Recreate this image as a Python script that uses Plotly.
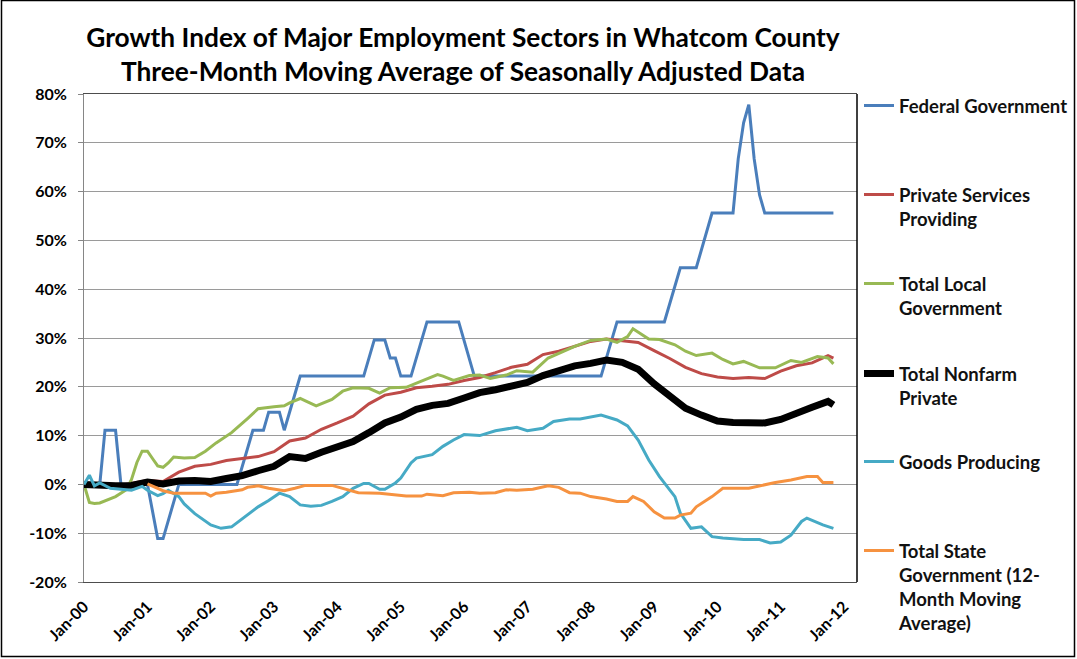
import pandas as pd
import plotly.graph_objects as go

# ---------------- data (percent growth since Jan-2000) ----------------
fed_dates = ["2000-01", "2000-04", "2000-05", "2000-07", "2000-08", "2001-01", "2001-03", "2001-04",
             "2001-07", "2002-06", "2002-09", "2002-11", "2002-12", "2003-02", "2003-03", "2003-06",
             "2004-06", "2004-08", "2004-10", "2004-11", "2004-12", "2005-01", "2005-03", "2005-06",
             "2005-12", "2006-03", "2008-03", "2008-06", "2009-03", "2009-06", "2009-09", "2009-12",
             "2010-04", "2010-05", "2010-06", "2010-07", "2010-08", "2010-09", "2010-10", "2011-11"]
fed_values = [0, 0, 11.1, 11.1, 0, 0, -11.1, -11.1,
              0, 0, 11.1, 11.1, 14.8, 14.8, 11.1, 22.2,
              22.2, 29.6, 29.6, 25.9, 25.9, 22.2, 22.2, 33.3,
              33.3, 22.2, 22.2, 33.3, 33.3, 44.4, 44.4, 55.6,
              55.6, 66.7, 74.1, 77.8, 66.7, 59.3, 55.6, 55.6]

quarter_dates = ["2000-01", "2000-04", "2000-07", "2000-10", "2001-01", "2001-04", "2001-07", "2001-10",
                 "2002-01", "2002-04", "2002-07", "2002-10", "2003-01", "2003-04", "2003-07", "2003-10",
                 "2004-01", "2004-04", "2004-07", "2004-10", "2005-01", "2005-04", "2005-07", "2005-10",
                 "2006-01", "2006-04", "2006-07", "2006-10", "2007-01", "2007-04", "2007-07", "2007-10",
                 "2008-01", "2008-04", "2008-07", "2008-10", "2009-01", "2009-04", "2009-07", "2009-10",
                 "2010-01", "2010-04", "2010-07", "2010-10", "2011-01", "2011-04", "2011-07", "2011-10",
                 "2011-11"]
services_values = [0, -0.3, -0.4, 0.2, 0.8, 0.6, 2.5, 3.7, 4.1, 4.9,
                   5.3, 5.7, 6.7, 8.9, 9.5, 11.3, 12.6, 14.0, 16.5, 18.3,
                   18.9, 19.8, 20.1, 20.5, 21.3, 21.9, 22.9, 24.0, 24.6, 26.6,
                   27.3, 28.3, 29.3, 29.8, 29.4, 29.1, 27.4, 25.8, 24.0, 22.7,
                   22.0, 21.7, 21.9, 21.7, 23.2, 24.3, 24.9, 26.4, 25.9]
nonfarm_values = [0, -0.2, -0.3, -0.2, 0.5, 0.1, 0.7, 0.8, 0.6, 1.2,
                  1.8, 2.8, 3.7, 5.7, 5.3, 6.6, 7.6, 8.8, 10.6, 12.6,
                  13.8, 15.4, 16.2, 16.6, 17.7, 18.8, 19.4, 20.2, 20.9, 22.3,
                  23.4, 24.3, 24.8, 25.5, 25.0, 23.6, 20.6, 18.3, 15.6, 14.2,
                  13.0, 12.7, 12.8, 12.6, 13.3, 14.7, 15.8, 17.0, 16.3]

local_dates = ["2000-01", "2000-02", "2000-03", "2000-04", "2000-07", "2000-09", "2000-10", "2000-11",
               "2000-12", "2001-01", "2001-02", "2001-03", "2001-04", "2001-05", "2001-06", "2001-08",
               "2001-10", "2001-12", "2002-02", "2002-05", "2002-08", "2002-10", "2003-01", "2003-03",
               "2003-04", "2003-06", "2003-07", "2003-09", "2003-12", "2004-02", "2004-04", "2004-07",
               "2004-09", "2004-11", "2005-02", "2005-05", "2005-08", "2005-09", "2005-11", "2006-02",
               "2006-04", "2006-06", "2006-09", "2006-11", "2007-02", "2007-05", "2007-07", "2007-10",
               "2008-01", "2008-04", "2008-06", "2008-08", "2008-09", "2008-12", "2009-02", "2009-05",
               "2009-07", "2009-09", "2009-12", "2010-02", "2010-04", "2010-06", "2010-09", "2010-12",
               "2011-03", "2011-05", "2011-08", "2011-10", "2011-11"]
local_values = [0, -3.7, -3.9, -3.8, -2.5, -1.1, 1.0, 4.5,
                6.8, 6.8, 5.2, 3.8, 3.5, 4.4, 5.6, 5.4,
                5.5, 6.8, 8.5, 10.6, 13.5, 15.5, 15.9, 16.1,
                16.7, 17.6, 17.1, 16.1, 17.4, 19.1, 19.8, 19.7,
                18.7, 19.8, 19.9, 21.1, 22.5, 22.2, 21.3, 22.3,
                22.4, 21.7, 22.4, 23.3, 23.0, 25.9, 26.9, 28.3,
                29.5, 29.8, 29.1, 30.3, 31.9, 29.8, 29.7, 28.6,
                27.3, 26.4, 26.9, 25.6, 24.7, 25.2, 23.9, 23.9,
                25.4, 25.0, 26.2, 25.9, 24.7]

goods_dates = ["2000-01", "2000-02", "2000-03", "2000-04", "2000-06", "2000-08", "2000-10", "2000-12",
               "2001-01", "2001-03", "2001-04", "2001-05", "2001-07", "2001-08", "2001-10", "2002-01",
               "2002-03", "2002-05", "2002-07", "2002-10", "2002-12", "2003-02", "2003-04", "2003-06",
               "2003-08", "2003-10", "2003-12", "2004-02", "2004-04", "2004-06", "2004-07", "2004-09",
               "2004-10", "2004-12", "2005-01", "2005-03", "2005-04", "2005-07", "2005-09", "2005-11",
               "2006-01", "2006-04", "2006-07", "2006-11", "2007-01", "2007-04", "2007-06", "2007-09",
               "2007-11", "2008-02", "2008-03", "2008-06", "2008-08", "2008-10", "2008-12", "2009-02",
               "2009-04", "2009-05", "2009-06", "2009-08", "2009-10", "2009-12", "2010-02", "2010-06",
               "2010-09", "2010-11", "2011-01", "2011-03", "2011-05", "2011-06", "2011-09", "2011-11"]
goods_values = [0, 1.9, -0.3, 0.3, -0.8, -1.0, -1.2, -0.4,
                -1.2, -2.3, -1.9, -1.2, -2.5, -4.0, -6.0, -8.3,
                -9.0, -8.7, -7.0, -4.6, -3.3, -1.8, -2.5, -4.2,
                -4.5, -4.3, -3.5, -2.5, -0.8, 0.2, 0.2, -1.0,
                -1.0, 0.3, 1.3, 4.4, 5.4, 6.1, 7.8, 9.1,
                10.2, 10.0, 11.0, 11.7, 11.0, 11.5, 12.9, 13.4,
                13.4, 14.1, 14.2, 13.2, 12.0, 9.1, 5.0, 1.6,
                -1.1, -2.5, -5.9, -9.0, -8.7, -10.7, -11.0, -11.3,
                -11.3, -12.0, -11.8, -10.4, -7.6, -6.9, -8.3, -9.0]

state_dates = ["2001-01", "2001-04", "2001-06", "2001-10", "2001-12", "2002-01", "2002-02", "2002-04",
               "2002-07", "2002-08", "2002-10", "2002-12", "2003-02", "2003-03", "2003-05", "2003-07",
               "2003-12", "2004-02", "2004-03", "2004-05", "2004-09", "2005-02", "2005-05", "2005-06",
               "2005-09", "2005-11", "2006-02", "2006-04", "2006-07", "2006-09", "2006-11", "2007-02",
               "2007-05", "2007-07", "2007-09", "2007-11", "2008-01", "2008-04", "2008-06", "2008-08",
               "2008-09", "2008-11", "2009-01", "2009-03", "2009-05", "2009-06", "2009-08", "2009-09",
               "2009-12", "2010-02", "2010-07", "2010-09", "2010-12", "2011-03", "2011-05", "2011-06",
               "2011-08", "2011-09", "2011-11"]
state_values = [0.1, -1.3, -1.8, -1.7, -1.8, -2.4, -1.8, -1.6,
                -1.1, -0.6, -0.3, -0.8, -1.2, -1.3, -0.8, -0.2,
                -0.2, -0.8, -1.0, -1.7, -1.8, -2.4, -2.4, -2.0,
                -2.3, -1.7, -1.6, -1.8, -1.7, -1.1, -1.2, -1.0,
                -0.3, -0.6, -1.7, -1.8, -2.5, -3.0, -3.5, -3.5,
                -2.5, -3.5, -5.6, -6.9, -6.9, -6.3, -5.9, -4.6,
                -2.5, -0.8, -0.8, -0.3, 0.4, 0.9, 1.3, 1.6,
                1.6, 0.4, 0.4]

year_ticks = ["2000-01", "2001-01", "2002-01", "2003-01", "2004-01", "2005-01", "2006-01",
              "2007-01", "2008-01", "2009-01", "2010-01", "2011-01", "2012-01"]
year_labels = ["Jan-00", "Jan-01", "Jan-02", "Jan-03", "Jan-04", "Jan-05", "Jan-06",
               "Jan-07", "Jan-08", "Jan-09", "Jan-10", "Jan-11", "Jan-12"]
y_ticks = [-20, -10, 0, 10, 20, 30, 40, 50, 60, 70, 80]
y_labels = ["-20%", "-10%", "0%", "10%", "20%", "30%", "40%", "50%", "60%", "70%", "80%"]

series = [
    ("Federal Government", fed_dates, fed_values, "#4A7EBB", 3),
    ("Private Services<br>Providing", quarter_dates, services_values, "#BE4B48", 3),
    ("Total Local<br>Government", local_dates, local_values, "#98B954", 3),
    ("Total Nonfarm<br>Private", quarter_dates, nonfarm_values, "#000000", 7),
    ("Goods Producing", goods_dates, goods_values, "#46AAC5", 3),
    ("Total State<br>Government (12-<br>Month Moving<br>Average)", state_dates, state_values, "#F69240", 3),
]

# ---------------- layout geometry (pixels) ----------------
W, H = 1077, 659
L, R, T, B = 84, 220, 94, 77
PW, PH = W - L - R, H - T - B
FONT = "Lato"


def px_x(p):
    return (p - L) / PW


def px_y(p):
    return (H - B - p) / PH


fig = go.Figure()
for i, (name, xs, ys, color, width) in enumerate(series):
    lg = "legend" if i == 0 else f"legend{i + 1}"
    fig.add_trace(go.Scatter(
        x=pd.to_datetime(xs), y=ys, name=name, mode="lines",
        line=dict(color=color, width=width), legend=lg, showlegend=True,
    ))

legend_tops = [87, 176, 265, 355, 443, 532]
legend_font = dict(family=FONT, size=18.5, color="#111111", weight="bold")
for i, top in enumerate(legend_tops):
    key = "legend" if i == 0 else f"legend{i + 1}"
    fig.layout[key] = dict(
        x=px_x(859), y=px_y(top), xanchor="left", yanchor="top", valign="top",
        font=legend_font, bgcolor="rgba(0,0,0,0)", itemwidth=30, tracegroupgap=0,
        visible=True,
    )

tick_font = dict(family=FONT, size=16, color="#000000", weight="bold")
fig.update_layout(
    width=W, height=H, showlegend=True,
    margin=dict(l=L, r=R, t=T, b=B, autoexpand=False),
    paper_bgcolor="white", plot_bgcolor="white",
    title=dict(
        text="Growth Index of Major Employment Sectors in Whatcom County<br>"
             "Three-Month Moving Average of Seasonally Adjusted Data",
        x=463 / W, xanchor="center", y=1 - 47 / H, yanchor="top",
        font=dict(family=FONT, size=26.3, color="#000000", weight="bold"),
    ),
    xaxis=dict(
        type="date", range=["2000-01-01", "2012-03-16"],
        tickvals=pd.to_datetime(year_ticks), ticktext=year_labels, tickangle=-45,
        tickfont=tick_font, ticks="", showgrid=False,
        showline=True, mirror=True, linecolor="#4D4D4D", linewidth=1,
        ticklabelstandoff=8,
    ),
    xaxis2=dict(
        type="date", matches="x", overlaying="x", anchor="free", position=px_y(484.5),
        tickvals=pd.to_datetime(year_ticks), showticklabels=False,
        ticks="outside", ticklen=5, tickcolor="#868686",
        showgrid=False, showline=True, linecolor="#868686", linewidth=1,
    ),
    yaxis=dict(
        range=[-20, 80], tickvals=y_ticks, ticktext=y_labels, tickfont=tick_font,
        showgrid=True, gridcolor="#9A9A9A", gridwidth=1, zeroline=False,
        showline=True, linecolor="#868686", linewidth=1,
        ticks="outside", ticklen=5, tickcolor="#868686", ticklabelstandoff=8,
    ),
    shapes=[
        dict(type="line", xref="paper", yref="paper", x0=1, x1=1, y0=0, y1=1,
             line=dict(color="#000000", width=1.5)),
        dict(type="rect", xref="paper", yref="paper",
             x0=px_x(1.5), x1=px_x(1074.5), y0=px_y(656.5), y1=px_y(0.5),
             line=dict(color="#000000", width=1.5), fillcolor="rgba(0,0,0,0)"),
    ],
)

fig.write_html("out.html", config={"displayModeBar": False},
               post_script="document.body.style.margin='0';")
